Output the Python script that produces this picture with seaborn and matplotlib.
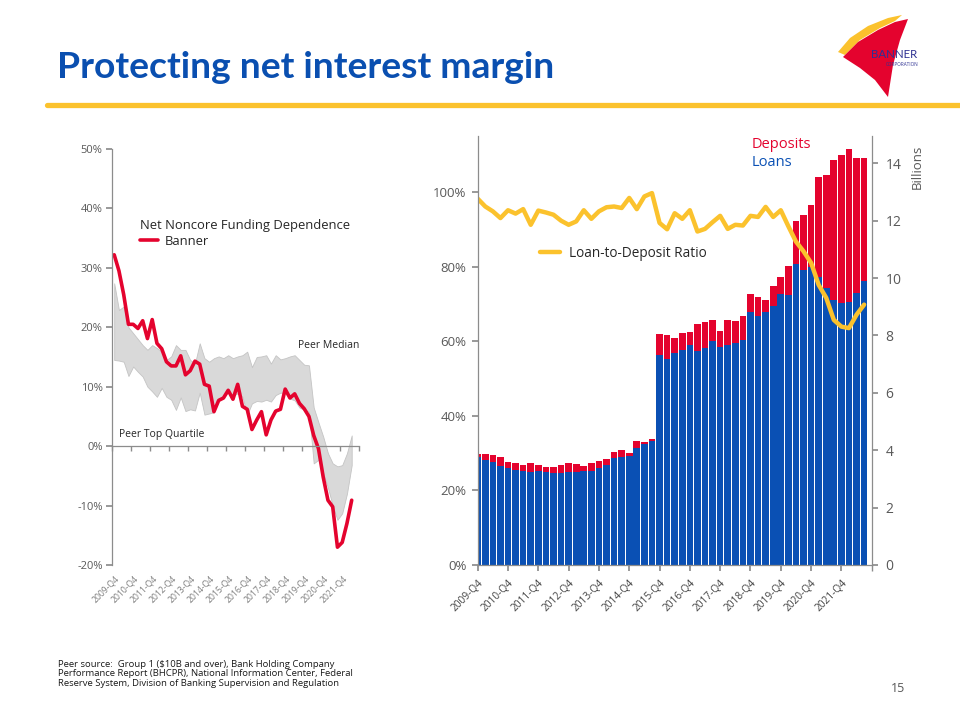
import numpy as np
import seaborn as sns
import matplotlib.pyplot as plt
from matplotlib.patches import Polygon
from matplotlib.ticker import FuncFormatter

# ---- data ----
tick_labels = ["2009-Q4", "2010-Q4", "2011-Q4", "2012-Q4", "2013-Q4", "2014-Q4", "2015-Q4",
               "2016-Q4", "2017-Q4", "2018-Q4", "2019-Q4", "2020-Q4", "2021-Q4"]

# Net noncore funding dependence, %, quarterly from 2009-Q4
banner_nncfd = [32.2, 29.5, 25.5, 20.5, 20.5, 19.8, 21.1, 18.1, 21.3, 17.3, 16.4, 14.2, 13.5,
                13.5, 15.2, 12.0, 12.7, 14.3, 13.8, 10.4, 10.1, 5.8, 7.7, 8.1, 9.4, 7.9,
                10.4, 6.7, 6.2, 2.8, 4.4, 5.8, 1.9, 4.4, 5.9, 6.2, 9.6, 8.1, 8.8, 7.2, 6.3,
                5.0, 1.8, -0.4, -5.2, -9.1, -10.2, -17.0, -16.2, -13.0, -9.1]
peer_median = [27.4, 22.9, 23.5, 20.0, 19.0, 18.0, 17.0, 16.2, 17.0, 16.5, 15.9, 14.5, 15.1,
               17.0, 16.2, 16.2, 14.5, 13.9, 17.3, 14.8, 14.2, 14.8, 15.1, 14.8, 15.3, 14.8,
               15.1, 15.3, 15.9, 13.3, 15.0, 15.1, 15.3, 13.9, 15.3, 14.6, 14.8, 15.1, 15.3,
               14.5, 13.7, 13.6, 6.5, 4.0, 1.6, -1.2, -2.9, -3.4, -3.2, -1.2, 1.8]
peer_top_quartile = [14.5, 14.4, 14.2, 11.8, 13.4, 12.5, 11.7, 10.0, 9.2, 8.3, 9.8, 8.3, 7.8,
                     6.1, 8.2, 5.9, 6.2, 6.0, 9.0, 5.3, 5.5, 5.7, 8.0, 8.5, 9.0, 8.5, 8.9,
                     8.3, 5.3, 7.2, 7.6, 7.5, 7.8, 7.5, 8.6, 9.0, 8.9, 8.0, 7.7, 6.5, 6.1,
                     5.8, -2.9, -2.3, -4.5, -7.0, -10.0, -12.4, -11.3, -8.0, -3.2]

# Banner deposits and loans, $ billions, quarterly from 2009-Q4
deposits = [3.87, 3.87, 3.83, 3.76, 3.59, 3.54, 3.48, 3.55, 3.48, 3.41, 3.40, 3.48, 3.55,
            3.52, 3.45, 3.55, 3.62, 3.70, 3.93, 4.01, 3.89, 4.32, 4.30, 4.38, 8.05, 8.00,
            7.90, 8.07, 8.12, 8.39, 8.46, 8.54, 8.16, 8.54, 8.52, 8.68, 9.45, 9.33, 9.24,
            9.72, 10.05, 10.42, 11.99, 12.19, 12.54, 13.51, 13.59, 14.12, 14.29, 14.49,
            14.17, 14.17]
loans = [3.75, 3.66, 3.58, 3.46, 3.37, 3.30, 3.27, 3.25, 3.27, 3.23, 3.21, 3.21, 3.24, 3.23,
         3.27, 3.27, 3.39, 3.49, 3.72, 3.75, 3.80, 4.07, 4.20, 4.32, 7.32, 7.17, 7.40, 7.49,
         7.67, 7.47, 7.55, 7.82, 7.59, 7.67, 7.73, 7.84, 8.81, 8.68, 8.83, 9.04, 9.45, 9.41,
         10.49, 10.28, 10.40, 10.05, 9.64, 9.24, 9.14, 9.18, 9.49, 9.88]
# loan-to-deposit ratio, %
ltd_ratio = [98.2, 96.1, 94.8, 93.0, 95.1, 94.2, 95.4, 91.2, 95.0, 94.5, 93.9, 92.3, 91.2,
             92.1, 95.1, 92.8, 94.8, 95.9, 96.1, 95.7, 98.4, 95.4, 98.8, 99.7, 91.7, 90.0,
             94.3, 92.8, 95.1, 89.4, 90.1, 91.9, 93.6, 90.1, 91.2, 91.0, 93.6, 93.3, 96.0,
             93.3, 95.1, 90.8, 86.7, 84.1, 81.0, 75.1, 71.6, 65.7, 63.9, 63.5, 67.1, 69.8]

RED = "#e4032e"
BLUE = "#0a50b4"
YELLOW = "#fbc22d"
GREY_AX = "#8c8c8c"
GREY_TXT = "#595959"
TITLE_BLUE = "#0a4fb0"

sns.set_theme(style="white")
plt.rcParams["font.family"] = ["Open Sans", "DejaVu Sans"]

fig = plt.figure(figsize=(9.6, 7.2), dpi=100)


def fx(px):
    return px / 960


def fy(py):
    return 1 - py / 720


pct = FuncFormatter(lambda v, _: f"{v:.0f}%")

# ---- header ----
fig.text(fx(57), fy(78), "Protecting net interest margin", fontsize=26.8, fontweight="bold",
         color=TITLE_BLUE, family=["Lato", "DejaVu Sans"], va="baseline")
fig.add_artist(plt.Line2D([fx(47), 1.0], [fy(105), fy(105)], color=YELLOW, lw=3.8))

logo = fig.add_axes([fx(830), fy(100), fx(100), 100 / 720])
logo.set_xlim(0, 100)
logo.set_ylim(100, 0)
logo.axis("off")
logo.add_patch(Polygon([(8, 52), (20, 38), (38, 26), (58, 18), (72, 15), (65, 21), (50, 28),
                        (30, 40), (15, 55)], closed=True, color=YELLOW, lw=0))
logo.add_patch(Polygon([(13, 57), (28, 42), (48, 30), (65, 22), (78, 19), (70, 40), (63, 65),
                        (58, 97), (45, 80), (30, 68)], closed=True, color=RED, lw=0))
logo.text(64, 55, "BANNER", fontsize=8.3, color="#2e3192", ha="center", va="center",
          family=["Lato", "DejaVu Sans"])
logo.text(72, 64, "CORPORATION", fontsize=3.3, color="#2e3192", ha="center", va="center")

# ---- left chart: net noncore funding dependence ----
ax1 = fig.add_axes([fx(112.3), fy(565), fx(359.3 - 112.3), (565 - 149) / 720])
q_left = np.arange(len(banner_nncfd))
ax1.fill_between(q_left, peer_top_quartile, peer_median, facecolor="#d9d9d9",
                 edgecolor="#c4c4c4", lw=0.6)
sns.lineplot(x=q_left, y=banner_nncfd, ax=ax1, color=RED, lw=2.6, label="Banner")
ax1.set_xlim(-0.4, 51.6)
ax1.set_ylim(-20, 50)
for s in ["top", "right"]:
    ax1.spines[s].set_visible(False)
ax1.spines["bottom"].set_position(("data", 0))
for s in ["left", "bottom"]:
    ax1.spines[s].set_color(GREY_AX)
    ax1.spines[s].set_linewidth(0.9)
ax1.set_yticks(range(-20, 51, 10))
ax1.yaxis.set_major_formatter(pct)
ax1.tick_params(axis="y", length=4, color=GREY_AX, labelsize=8, labelcolor=GREY_TXT, pad=3,
                left=True)
ax1.set_xticks(np.arange(0, 49, 4))
ax1.set_xticklabels(tick_labels, rotation=45, ha="right", rotation_mode="anchor")
ax1.set_xticks(np.arange(-0.4, 52, 4), minor=True)
ax1.tick_params(axis="x", which="major", length=0, pad=92, labelsize=6.2, labelcolor="#7f7f7f")
ax1.tick_params(axis="x", which="minor", length=3.5, color=GREY_AX, direction="out", bottom=True)
ax1.set_xlabel("")
ax1.set_ylabel("")
ax1.legend(title="Net Noncore Funding Dependence", loc="upper left",
           bbox_to_anchor=(fx(140), fy(219)), bbox_transform=fig.transFigure, frameon=False,
           fontsize=9.4, title_fontsize=9.4, alignment="left", handlelength=1.4, borderpad=0,
           borderaxespad=0, handletextpad=0.5, labelspacing=0.2)
fig.text(fx(298), fy(345), "Peer Median", fontsize=7.5, color="#262626", va="center")
fig.text(fx(119), fy(434), "Peer Top Quartile", fontsize=7.5, color="#262626", va="center")

# ---- right chart: deposits, loans and loan-to-deposit ratio ----
ax2 = fig.add_axes([fx(477.7), fy(565), fx(871.7 - 477.7), (565 - 136) / 720])
q_right = np.arange(len(deposits))
sns.barplot(x=q_right, y=deposits, ax=ax2, color=RED, width=0.88, saturation=1,
            errorbar=None, native_scale=True, linewidth=0)
sns.barplot(x=q_right, y=loans, ax=ax2, color=BLUE, width=0.88, saturation=1,
            errorbar=None, native_scale=True, linewidth=0)
ax3 = ax2.twinx()
ax2.yaxis.tick_right()
sns.lineplot(x=q_right, y=ltd_ratio, ax=ax3, color=YELLOW, lw=3.2, label="Loan-to-Deposit Ratio")

ax2.set_xlim(0, 52)
ax2.set_ylim(0, 14.95)
ax3.set_ylim(0, 115)
ax2.set_yticks(range(0, 15, 2))
ax3.set_yticks(range(0, 101, 20))
ax3.yaxis.set_major_formatter(pct)
for s in ["top", "left"]:
    ax2.spines[s].set_visible(False)
for s in ["top", "right", "bottom"]:
    ax3.spines[s].set_visible(False)
for a, s in [(ax2, "right"), (ax2, "bottom"), (ax3, "left")]:
    a.spines[s].set_color(GREY_AX)
    a.spines[s].set_linewidth(0.9)
ax2.tick_params(axis="y", right=True, left=False, labelright=True, labelleft=False, length=4,
                color=GREY_AX, labelsize=10, labelcolor=GREY_TXT, pad=6)
ax3.tick_params(axis="y", left=True, right=False, labelleft=True, labelright=False, length=4,
                color=GREY_AX, labelsize=9.5, labelcolor=GREY_TXT, pad=4)
ax2.set_xticks(np.arange(0, 49, 4))
ax2.set_xticklabels(tick_labels, rotation=45, ha="right", rotation_mode="anchor")
ax2.set_xticks([52], minor=True)
ax2.tick_params(axis="x", which="both", length=4, color=GREY_AX, bottom=True, pad=5,
                labelsize=7.3, labelcolor="#404040")
for a in (ax2, ax3):
    a.set_xlabel("")
    a.set_ylabel("")
ax3.legend(loc="upper left", bbox_to_anchor=(fx(540), fy(246)), bbox_transform=fig.transFigure,
           frameon=False, fontsize=9.8, handlelength=1.5, borderpad=0, borderaxespad=0,
           handletextpad=0.6)

fig.text(fx(752), fy(145), "Deposits", fontsize=10.5, color=RED, va="center")
fig.text(fx(752), fy(163), "Loans", fontsize=10.5, color=BLUE, va="center")
fig.text(fx(917), fy(167), "Billions", fontsize=9.5, color=GREY_TXT, rotation=90,
         ha="center", va="center")

# ---- footer ----
fig.text(fx(58), fy(660),
         "Peer source:  Group 1 (\\$10B and over), Bank Holding Company\n"
         "Performance Report (BHCPR), National Information Center, Federal\n"
         "Reserve System, Division of Banking Supervision and Regulation",
         fontsize=6.8, color="#1a1a1a", va="top", linespacing=1.05)
fig.text(fx(905), fy(689), "15", fontsize=9, color=GREY_TXT, ha="right", va="center")

fig.savefig("out.png", dpi=100)
